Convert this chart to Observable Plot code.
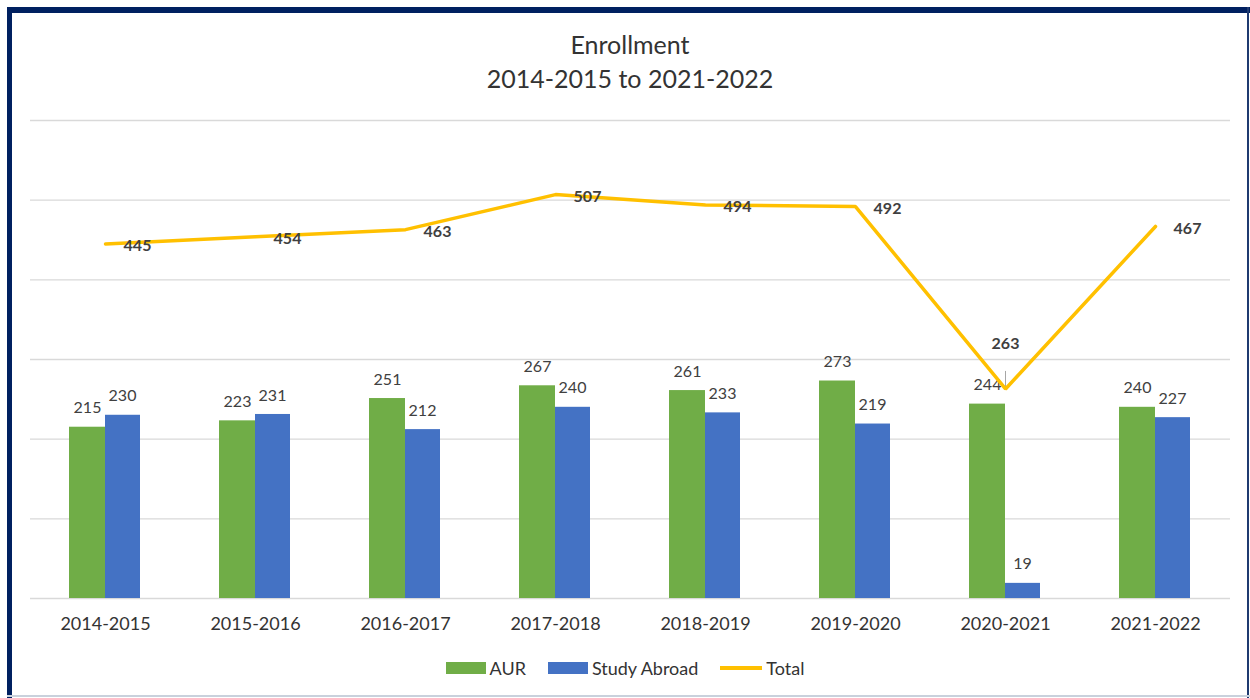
<!DOCTYPE html>
<html>
<head>
<meta charset="utf-8">
<script src="https://cdn.jsdelivr.net/npm/d3@7"></script>
<script src="https://cdn.jsdelivr.net/npm/@observablehq/plot@0.6"></script>
<style>
  html, body { margin: 0; padding: 0; background: #fff; }
  body { width: 1250px; height: 698px; overflow: hidden; font-family: Lato, "Open Sans", sans-serif; }
  #wrap { position: relative; width: 1250px; height: 698px; }
  .frameTop { position: absolute; left: 7px; top: 7px; width: 1243px; height: 6px; background: #002060; }
  .frameLeft { position: absolute; left: 7px; top: 7px; width: 5px; height: 691px; background: #002060; }
  .frameRight { position: absolute; left: 1247px; top: 7px; width: 2px; height: 691px; background: #1f3a70; }
  .frameBottom { position: absolute; left: 7px; top: 695px; width: 1243px; height: 2px; background: #c9d1dc; }
  #title { position: absolute; left: 30px; width: 1200px; top: 27px; text-align: center; color: #333; font-size: 25px; line-height: 34px; }
  #chart { position: absolute; left: 0; top: 100px; }
  #legend { position: absolute; left: 0; width: 1250px; top: 657px; display: flex; justify-content: center; align-items: center; color: #333; font-size: 18px; }
  .item { display: flex; align-items: center; margin: 0 11px; }
  .sw { width: 40px; height: 12px; margin-right: 4px; }
  .ln { width: 42px; height: 4px; margin-right: 4px; }
</style>
</head>
<body>
<div id="wrap">
  <div class="frameTop"></div>
  <div class="frameLeft"></div>
  <div class="frameRight"></div>
  <div class="frameBottom"></div>
  <div id="title">Enrollment<br>2014-2015 to 2021-2022</div>
  <div id="chart"></div>
  <div id="legend"></div>
</div>
<script>
const years = ["2014-2015","2015-2016","2016-2017","2017-2018","2018-2019","2019-2020","2020-2021","2021-2022"];
const aur = [215, 223, 251, 267, 261, 273, 244, 240];
const studyAbroad = [230, 231, 212, 240, 233, 219, 19, 227];
const total = [445, 454, 463, 507, 494, 492, 263, 467];
const yTicks = [0, 100, 200, 300, 400, 500, 600];
const seriesNames = ["AUR", "Study Abroad", "Total"];
const colors = ["#70AD47", "#4472C4", "#FFC000"];

const rows = years.map((y, i) => ({year: y, aur: aur[i], sa: studyAbroad[i], total: total[i]}));
const normalTotals = rows.filter(d => d.year !== "2020-2021");
const dipTotals = rows.filter(d => d.year === "2020-2021");

const chart = Plot.plot({
  width: 1250,
  height: 545,
  marginLeft: 30,
  marginRight: 20,
  marginTop: 20,
  marginBottom: 47,
  style: {fontFamily: "Lato, 'Open Sans', sans-serif", background: "transparent"},
  x: {domain: years, padding: 0, label: null},
  y: {domain: [0, 600], axis: null},
  marks: [
    Plot.ruleY(yTicks, {stroke: "#D9D9D9", strokeWidth: 1.3}),
    Plot.barY(rows, {x: "year", y: "aur", fill: colors[0], insetLeft: 39, insetRight: 75}),
    Plot.barY(rows, {x: "year", y: "sa", fill: colors[1], insetLeft: 75, insetRight: 40}),
    Plot.text(rows, {x: "year", y: "aur", text: d => String(d.aur), dx: -18, dy: -19, fill: "#404040", fontSize: 16}),
    Plot.text(rows, {x: "year", y: "sa", text: d => String(d.sa), dx: 17, dy: -19, fill: "#404040", fontSize: 16}),
    Plot.ruleX(dipTotals, {x: "year", y1: "total", y2: d => d.total + 22, stroke: "#A6A6A6", strokeWidth: 1}),
    Plot.line(rows, {x: "year", y: "total", stroke: colors[2], strokeWidth: 3.5, strokeLinejoin: "miter"}),
    Plot.text(normalTotals, {x: "year", y: "total", text: d => String(d.total), dx: 32, dy: 2, fill: "#404040", fontSize: 16, fontWeight: "bold"}),
    Plot.text(dipTotals, {x: "year", y: "total", text: d => String(d.total), dx: 0, dy: -45, fill: "#404040", fontSize: 16, fontWeight: "bold"}),
    Plot.axisX({tickSize: 0, tickPadding: 19, fontSize: 18, color: "#333", label: null})
  ]
});
document.getElementById("chart").appendChild(chart);

const legend = document.getElementById("legend");
seriesNames.forEach((name, i) => {
  const item = document.createElement("div");
  item.className = "item";
  const sw = document.createElement("div");
  sw.className = i < 2 ? "sw" : "ln";
  sw.style.background = colors[i];
  const t = document.createElement("span");
  t.textContent = name;
  item.appendChild(sw);
  item.appendChild(t);
  legend.appendChild(item);
});
</script>
</body>
</html>
